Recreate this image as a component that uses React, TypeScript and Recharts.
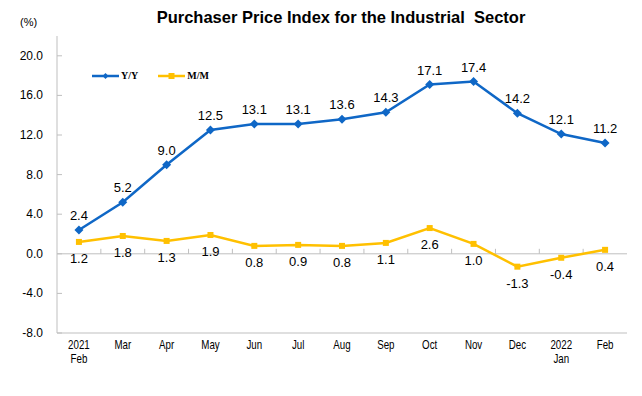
import React from 'react';
import { LineChart, Line, XAxis, YAxis, LabelList, ReferenceLine } from 'recharts';

const months = ['Feb', 'Mar', 'Apr', 'May', 'Jun', 'Jul', 'Aug', 'Sep', 'Oct', 'Nov', 'Dec', 'Jan', 'Feb'];
const years = ['2021', '', '', '', '', '', '', '', '', '', '', '2022', ''];
const yoy = [2.4, 5.2, 9.0, 12.5, 13.1, 13.1, 13.6, 14.3, 17.1, 17.4, 14.2, 12.1, 11.2];
const mom = [1.2, 1.8, 1.3, 1.9, 0.8, 0.9, 0.8, 1.1, 2.6, 1.0, -1.3, -0.4, 0.4];
const yTicks = [-8, -4, 0, 4, 8, 12, 16, 20];

const data = months.map((m, i) => ({ key: `c${i}`, month: m, year: years[i], yoy: yoy[i], mom: mom[i] }));

const BLUE = '#0F67C6';
const YELLOW = '#FFC000';
const AXIS = '#BFBFBF';
const Y_MARGIN = 14;

const Diamond = (p: any) => {
  const { cx, cy, index } = p;
  const r = 4.5;
  return <polygon key={`d${index}`} points={`${cx},${cy - r} ${cx + r},${cy} ${cx},${cy + r} ${cx - r},${cy}`} fill={BLUE} />;
};

const Square = (p: any) => {
  const { cx, cy, index } = p;
  return <rect key={`s${index}`} x={cx - 3} y={cy - 3} width={6} height={6} fill={YELLOW} />;
};

const MonthTick = (p: any) => {
  const { x, y, index } = p;
  const yr = years[index];
  return (
    <g transform={`translate(${x},${y}) scale(0.78,1)`}>
      <text x={0} y={0} textAnchor="middle" fontSize={12.5} fill="#000" fontFamily="Arial, 'Liberation Sans', sans-serif">
        {yr ? (
          <>
            <tspan x={0} dy={8}>{yr}</tspan>
            <tspan x={0} dy={14}>{months[index]}</tspan>
          </>
        ) : (
          <tspan x={0} dy={8}>{months[index]}</tspan>
        )}
      </text>
    </g>
  );
};

const ValueTick = (p: any) => {
  const { x, y, payload } = p;
  const ax = x + Y_MARGIN;
  return (
    <g>
      <text x={x} y={y} dy={4} textAnchor="end" fontSize={12} fill="#000" fontFamily="Arial, 'Liberation Sans', sans-serif">
        {Number(payload.value).toFixed(1)}
      </text>
      <line x1={ax} x2={ax + 5} y1={y} y2={y} stroke={AXIS} />
    </g>
  );
};

const ZeroLine = (p: any) => {
  const { x1, x2, y1 } = p;
  const n = months.length;
  const step = (x2 - x1) / n;
  return (
    <g>
      <line x1={x1} x2={x2} y1={y1} y2={y1} stroke={AXIS} strokeWidth={1} />
      {months.slice(1).map((_, i) => (
        <line key={i} x1={x1 + step * (i + 1)} x2={x1 + step * (i + 1)} y1={y1} y2={y1 - 5} stroke={AXIS} />
      ))}
    </g>
  );
};

const LegendBox = () => (
  <div style={{ position: 'absolute', left: 92, top: 70, display: 'flex', alignItems: 'center', fontFamily: "'Liberation Serif', serif", fontSize: 10, fontWeight: 'bold', color: '#000' }}>
    <svg width={27} height={10}>
      <line x1={0} x2={27} y1={5} y2={5} stroke={BLUE} strokeWidth={2.5} />
      <polygon points="13.5,2 16.5,5 13.5,8 10.5,5" fill={BLUE} />
    </svg>
    <span style={{ marginLeft: 2, marginRight: 20 }}>Y/Y</span>
    <svg width={27} height={10}>
      <line x1={0} x2={27} y1={5} y2={5} stroke={YELLOW} strokeWidth={2.5} />
      <rect x={10.5} y={2} width={6} height={6} fill={YELLOW} />
    </svg>
    <span style={{ marginLeft: 2 }}>M/M</span>
  </div>
);

export default function App() {
  return (
    <div style={{ position: 'absolute', left: 0, top: 0, width: 642, height: 396, background: '#fff', fontFamily: 'Arial, "Liberation Sans", sans-serif' }}>
      <div style={{ position: 'absolute', left: 0, width: 682, top: 8, textAlign: 'center', fontWeight: 'bold', fontSize: 16.5, color: '#000' }}>
        Purchaser Price Index for the Industrial&nbsp; Sector
      </div>
      <div style={{ position: 'absolute', left: 20, top: 16, fontSize: 11, color: '#000' }}>(%)</div>
      <LineChart width={642} height={396} data={data} margin={{ top: 36, right: 15, left: 0, bottom: 23 }}>
        <XAxis dataKey="key" scale="band" interval={0} height={40} tickLine={false} axisLine={{ stroke: AXIS }} tick={<MonthTick />} />
        <XAxis xAxisId="top" orientation="top" dataKey="key" scale="band" height={0} tick={false} tickLine={false} axisLine={{ stroke: AXIS }} />
        <YAxis
          domain={[-8, 22]}
          ticks={yTicks}
          width={57}
          interval={0}
          axisLine={{ stroke: AXIS }}
          tickLine={false}
          tickSize={0}
          tickMargin={Y_MARGIN}
          tick={<ValueTick />}
        />
        <YAxis yAxisId="right" orientation="right" width={0} domain={[-8, 22]} tick={false} tickLine={false} axisLine={{ stroke: AXIS }} />
        <ReferenceLine y={0} shape={(p: any) => <ZeroLine {...p} />} />
        <Line dataKey="yoy" stroke={BLUE} strokeWidth={2.5} dot={Diamond} activeDot={false} isAnimationActive={false}>
          <LabelList dataKey="yoy" position="top" offset={10} fontSize={13} fill="#000" formatter={(v: any) => Number(v).toFixed(1)} />
        </Line>
        <Line dataKey="mom" stroke={YELLOW} strokeWidth={2.5} dot={Square} activeDot={false} isAnimationActive={false}>
          <LabelList dataKey="mom" position="bottom" offset={12} fontSize={13} fill="#000" formatter={(v: any) => Number(v).toFixed(1)} />
        </Line>
      </LineChart>
      <LegendBox />
    </div>
  );
}
